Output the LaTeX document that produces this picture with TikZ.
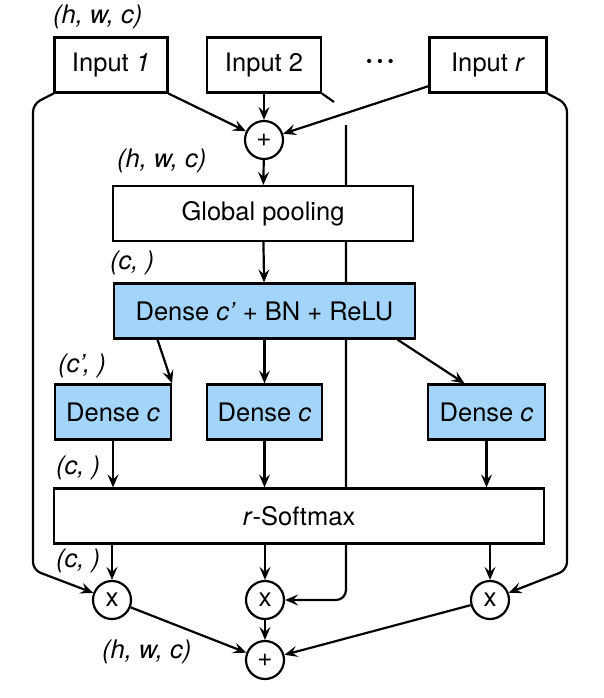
\documentclass[tikz,border=0pt]{standalone}
\usepackage{fontspec}
\setmainfont{TeX Gyre Heros}
\usetikzlibrary{arrows.meta,backgrounds}
\definecolor{boxblue}{RGB}{163,213,250}
\begin{document}
\begin{tikzpicture}[x=1pt,y=-1pt,
  line width=2.2pt,
  font=\fontsize{25.5}{30}\selectfont,
  arr/.style={line width=2.2pt,-{Stealth[length=13pt,width=11pt,inset=5pt]}},
  plain/.style={line width=2.2pt},
  box/.style={draw,fill=white,inner sep=0pt,minimum height=55pt},
  bluebox/.style={box,fill=boxblue},
  op/.style={draw,fill=white,circle,minimum size=38pt,inner sep=0pt,font=\fontsize{26}{28}\selectfont},
  dim/.style={font=\fontsize{25.5}{30}\selectfont\itshape,anchor=west,inner sep=0pt}]
\useasboundingbox (0,0) rectangle (603,698);
% inputs
\node[box,minimum width=113pt] (in1) at (111,65) {Input \textit{1}};
\node[box,minimum width=114pt] (in2) at (264,65) {Input 2};
\node[box,minimum width=117pt] (inr) at (488,65) {Input \textit{r}};
\node[font=\fontsize{28}{30}\selectfont\bfseries] (dots) at (380,64) {·\hspace{3pt}·\hspace{3pt}·};
\node[op] (p1) at (264,140) {+};
\node[box,minimum width=300pt] (gp) at (263,213.5) {Global pooling};
\node[bluebox,minimum width=301pt] (dd) at (264.5,311) {Dense \textit{c’} + BN + ReLU};
\node[bluebox,minimum width=116pt] (d1) at (113,412) {Dense \textit{c}};
\node[bluebox,minimum width=115pt] (d2) at (264.5,412) {Dense \textit{c}};
\node[bluebox,minimum width=117pt] (d3) at (486.5,412) {Dense \textit{c}};
\node[box,minimum width=490pt] (sm) at (299,516) {\textit{r}-Softmax};
\node[op] (x1) at (112,600) {x};
\node[op] (x2) at (265,600) {x};
\node[op] (x3) at (490,600) {x};
\node[op] (p2) at (265,660) {+};
% dimension labels
\node[dim] (l1) at (52,17) {(h, w, c)};
\node[dim] (l2) at (116,161) {(h, w, c)};
\node[dim] (l3) at (109,263) {(c, )};
\node[dim] (l4) at (57,366) {(c’, )};
\node[dim] (l5) at (55,468) {(c, )};
\node[dim] (l6) at (55,561) {(c, )};
\node[dim] (l7) at (101,652) {(h, w, c)};
% coordinates for side paths
\coordinate (lstart) at (33,104);
\coordinate (lend) at (33,570);
\coordinate (rstart) at (567,104);
\coordinate (rend) at (567,570);
\coordinate (stub) at (334,102);
\coordinate (mtop) at (346,125);
\coordinate (inrout) at (429,86);
\begin{scope}[on background layer]
  \draw[arr,rounded corners=8pt] (in1.south west) -- (lstart) -- (lend) -- (x1);
  \draw[arr,rounded corners=8pt] (inr.south east) -- (rstart) -- (rend) -- (x3);
  \draw[plain] (in2.south east) -- (stub);
  \draw[arr,rounded corners=10pt] (mtop) |- (x2);
\end{scope}
% top arrows
\draw[arr] (in1.south east) -- (p1);
\draw[arr] (in2) -- (p1);
\draw[arr] (inrout) -- (p1);
\draw[arr] (p1) -- (gp);
\draw[arr] (gp) -- (dd);
\draw[arr] ([xshift=-107pt]dd.south) -- (d1.north east);
\draw[arr] (dd.south) -- (d2);
\draw[arr] ([xshift=133pt]dd.south) -- ([xshift=-22pt]d3.north);
\draw[arr] (d1) -- (d1 |- sm.north);
\draw[arr] (d2) -- (d2 |- sm.north);
\draw[arr] (d3) -- (d3 |- sm.north);
\draw[arr] (x1 |- sm.south) -- (x1);
\draw[arr] (x2 |- sm.south) -- (x2);
\draw[arr] (x3 |- sm.south) -- (x3);
\draw[arr] (x1) -- (p2);
\draw[arr] (x2) -- (p2);
\draw[arr] (x3) -- (p2);
\end{tikzpicture}
\end{document}
